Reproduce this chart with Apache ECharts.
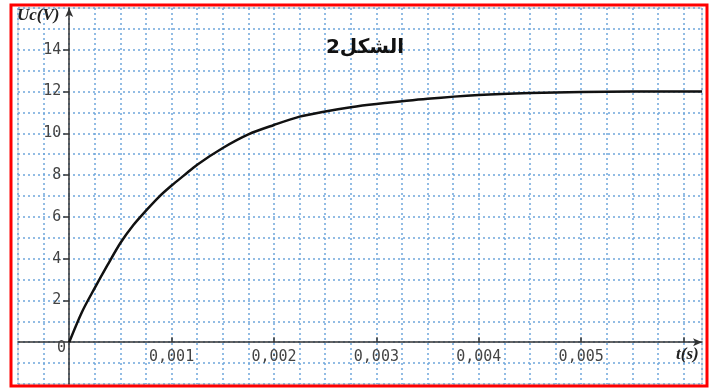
<!DOCTYPE html>
<html>
<head>
<meta charset="utf-8">
<script src="https://cdn.jsdelivr.net/npm/echarts@6/dist/echarts.min.js"></script>
<style>
html,body{margin:0;padding:0;background:#fff;}
#c{width:710px;height:390px;}
</style>
</head>
<body>
<div id="c"></div>
<script>
// data
var times = [0, 0.000125, 0.00025, 0.000375, 0.0005, 0.000625, 0.00075, 0.000875, 0.001, 0.001125, 0.00125, 0.0015, 0.00175, 0.002, 0.00225, 0.0025, 0.00275, 0.003, 0.0035, 0.004, 0.0045, 0.005, 0.0055, 0.006, 0.00618];
var voltages = [0, 1.45, 2.6, 3.7, 4.75, 5.6, 6.3, 6.95, 7.5, 8.0, 8.5, 9.3, 9.95, 10.4, 10.8, 11.05, 11.25, 11.4, 11.65, 11.83, 11.93, 11.98, 12.0, 12.0, 12.0];
var xTickLabels = [0.001, 0.002, 0.003, 0.004, 0.005];
var xTickMarks = [0.001, 0.002, 0.003, 0.004, 0.005, 0.006];
var yTickLabels = [2, 4, 6, 8, 10, 12, 14];
var titleText = 'الشكل2';
var yName = 'Uc(V)';
var xName = 't(s)';
var originLabel = '0';

var X_MIN = -0.0005, X_MAX = 0.00618, Y_MIN = -2, Y_MAX = 16;
var G = { left: 18, right: 8, top: 8, bottom: 6 };
var W = 710, H = 390;
var plotW = W - G.left - G.right, plotH = H - G.top - G.bottom;
// axis offsets so the axes cross at the origin
var xOff = -((0 - Y_MIN) / (Y_MAX - Y_MIN) * plotH);
var yOff = -((0 - X_MIN) / (X_MAX - X_MIN) * plotW);

var pts = times.map(function (t, i) { return [t, voltages[i]]; });
var chart = echarts.init(document.getElementById('c'));
var gridColor = '#6fa6dc';
var mono = 'DejaVu Sans Mono';
var axisCol = '#333';
chart.setOption({
  animation: false,
  grid: { left: G.left, right: G.right, top: G.top, bottom: G.bottom, containLabel: false, outerBoundsMode: 'none',
    show: true, borderColor: '#c8c8c8', borderWidth: 1 },
  xAxis: [{
    type: 'value', min: X_MIN, max: X_MAX, interval: 0.00025, position: 'bottom',
    axisLine: { show: false }, axisTick: { show: false }, axisLabel: { show: false },
    splitLine: { show: true, lineStyle: { color: gridColor, type: [2, 3], width: 1.5 } }
  }, {
    type: 'value', min: X_MIN, max: X_MAX, position: 'bottom', offset: xOff,
    axisLine: { show: true, onZero: false, lineStyle: { color: axisCol, width: 1.5 }, symbol: ['none', 'arrow'], symbolSize: [6, 9] },
    axisTick: { show: true, inside: true, length: 5, customValues: xTickMarks, lineStyle: { color: axisCol, width: 1.5 } },
    axisLabel: { customValues: xTickLabels, margin: 7, color: '#444', fontFamily: mono, fontSize: 15,
      formatter: function (v) { return v.toFixed(3).replace('.', ','); } },
    splitLine: { show: false }
  }],
  yAxis: [{
    type: 'value', min: Y_MIN, max: Y_MAX, interval: 1, position: 'left',
    axisLine: { show: false }, axisTick: { show: false }, axisLabel: { show: false },
    splitLine: { show: true, lineStyle: { color: gridColor, type: [2, 3], width: 1.5 } }
  }, {
    type: 'value', min: Y_MIN, max: Y_MAX, position: 'left', offset: yOff,
    axisLine: { show: true, onZero: false, lineStyle: { color: axisCol, width: 1.5 }, symbol: ['none', 'arrow'], symbolSize: [6, 9] },
    axisTick: { show: true, length: 6, customValues: yTickLabels, lineStyle: { color: axisCol, width: 1.5 } },
    axisLabel: { customValues: yTickLabels, margin: 8, color: '#444', fontFamily: mono, fontSize: 15 },
    splitLine: { show: false }
  }],
  series: [{
    type: 'line', data: pts, smooth: 0.3, showSymbol: false, xAxisIndex: 0, yAxisIndex: 0,
    lineStyle: { color: '#111', width: 2.5 }
  }],
  graphic: [
    { type: 'rect', shape: { x: 11, y: 5, width: 696, height: 381 }, style: { fill: 'none', stroke: '#ff0000', lineWidth: 3 }, z: 100 },
    { type: 'text', left: 17, top: 7, style: { text: yName, font: 'bold italic 17px "Liberation Serif"', fill: '#222' }, z: 50 },
    { type: 'text', left: 676, top: 346, style: { text: xName, font: 'bold italic 17px "Liberation Serif"', fill: '#222' }, z: 50 },
    { type: 'text', left: 57, top: 341, style: { text: originLabel, font: '15px "DejaVu Sans Mono"', fill: '#444' }, z: 50 },
    { type: 'text', x: 365, y: 48, style: { text: titleText, font: 'bold 20px "DejaVu Sans"', fill: '#111', align: 'center', verticalAlign: 'middle' }, z: 50 }
  ]
});
</script>
</body>
</html>
